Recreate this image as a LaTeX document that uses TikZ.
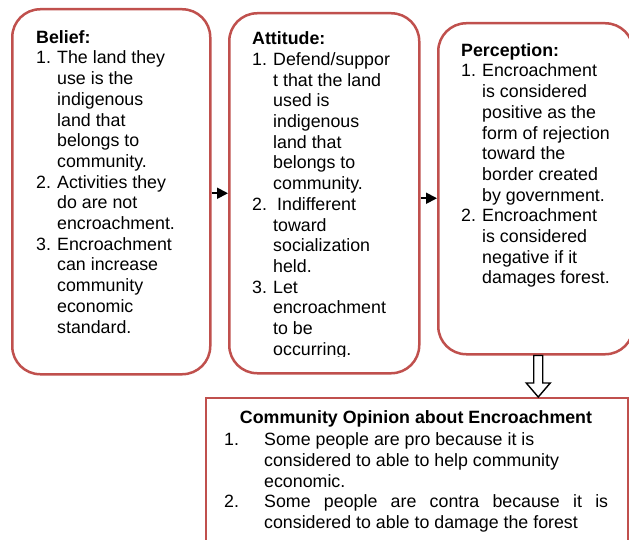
\documentclass[tikz,border=0pt]{standalone}
\usepackage{fontspec}
\setmainfont{Liberation Sans}
\usetikzlibrary{arrows.meta,calc}
\definecolor{boxred}{RGB}{192,80,77}
\newcommand\numit[1]{\makebox[21pt][l]{#1}}
\newcommand\contl{\hspace*{21pt}}
\newcommand\firstln{\rule{0pt}{14pt}}
\tikzset{
  rbox/.style={draw=boxred, line width=2.5pt, rounded corners=28pt, fill=white, rectangle, anchor=north west, inner sep=0pt},
  sbox/.style={draw=boxred, line width=2pt, fill=white, rectangle, anchor=north west, inner sep=0pt},
  bodytext/.style={anchor=north west, inner sep=0pt, align=left, font=\fontsize{17.8pt}{20.7pt}\selectfont},
  arr/.style={line width=1.8pt, -{Triangle[length=11pt,width=11pt]}},
  hollow/.style={draw=black, line width=1.4pt, fill=white, line join=miter}
}
\begin{document}
\begin{tikzpicture}[x=1pt,y=-1pt]
\useasboundingbox (0,0) rectangle (629,540);
\fill[white] (0,0) rectangle (629,540);

% boxes
\node[rbox, minimum width=198pt, minimum height=365pt] (belief) at (11,8) {};
\node[rbox, minimum width=190pt, minimum height=360pt] (attitude) at (228,12) {};
\node[rbox, minimum width=195pt, minimum height=331pt] (perc) at (437,22) {};
\node[sbox, minimum width=422pt, minimum height=170pt] (opin) at (205,397) {};

% texts
\node[bodytext] (belieftxt) at (36,29) {\firstln\textbf{Belief:}\\
\numit{1.}The land they\\
\contl use is the\\
\contl indigenous\\
\contl land that\\
\contl belongs to\\
\contl community.\\
\numit{2.}Activities they\\
\contl do are not\\
\contl encroachment.\\
\numit{3.}Encroachment\\
\contl can increase\\
\contl community\\
\contl economic\\
\contl standard.};

\begin{scope}
\clip (228,12) rectangle (418,356.5);
\node[bodytext] (attitudetxt) at (252,30.5) {\firstln\textbf{Attitude:}\\
\numit{1.}Defend/suppor\\
\contl t that the land\\
\contl used is\\
\contl indigenous\\
\contl land that\\
\contl belongs to\\
\contl community.\\
\numit{2.}\hspace*{4pt}Indifferent\\
\contl toward\\
\contl socialization\\
\contl held.\\
\numit{3.}Let\\
\contl encroachment\\
\contl to be\\
\contl occurring.};
\end{scope}

\node[bodytext] (perctxt) at (461,42) {\firstln\textbf{Perception:}\\
\numit{1.}Encroachment\\
\contl is considered\\
\contl positive as the\\
\contl form of rejection\\
\contl toward the\\
\contl border created\\
\contl by government.\\
\numit{2.}Encroachment\\
\contl is considered\\
\contl negative if it\\
\contl damages forest.};

\node[anchor=base, inner sep=0pt, font=\fontsize{17.8pt}{20.7pt}\selectfont\bfseries] (opinhead) at (416,423) {Community Opinion about Encroachment};
\node[bodytext] (opintxt) at (224,431.5) {\firstln\makebox[40pt][l]{1.}Some people are pro because it is\\
\hspace*{40pt}considered to able to help community\\
\hspace*{40pt}economic.\\
\makebox[40pt][l]{2.}\makebox[344pt][s]{Some people are contra because it is}\\
\hspace*{40pt}considered to able to damage the forest};

% connectors
\draw[arr] ([yshift=-1.5pt]belief.east) -- ([yshift=-1.5pt]belief.east -| attitude.west);
\draw[arr] ([yshift=-5pt]attitude.east) -- ([yshift=-5pt]attitude.east -| perc.west);

\path (perc.south) ++(2.5,0) coordinate (tail);
\path (tail |- opin.north) coordinate (tip);
\draw[hollow] ([xshift=-4.5pt]tail) -- ([xshift=-4.5pt,yshift=14pt]tip) -- ([xshift=-12pt,yshift=14pt]tip) -- (tip) -- ([xshift=12pt,yshift=14pt]tip) -- ([xshift=4.5pt,yshift=14pt]tip) -- ([xshift=4.5pt]tail) -- cycle;
\end{tikzpicture}
\end{document}
